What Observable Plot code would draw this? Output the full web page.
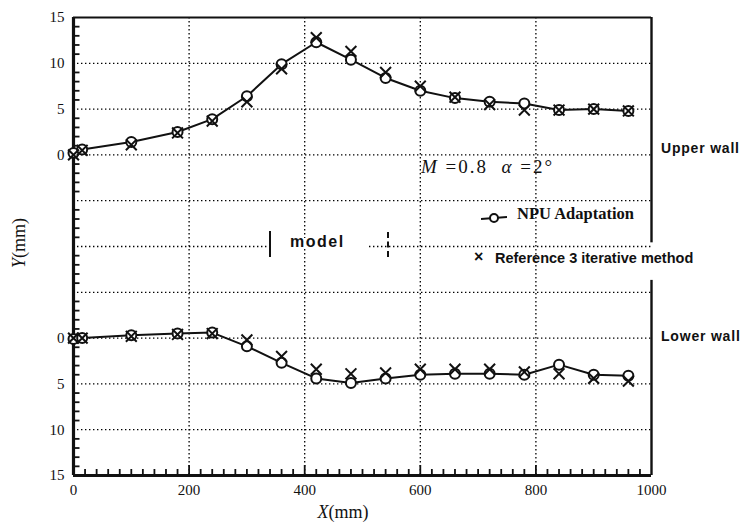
<!DOCTYPE html>
<html><head><meta charset="utf-8">
<script src="https://cdn.jsdelivr.net/npm/d3@7"></script>
<script src="https://cdn.jsdelivr.net/npm/@observablehq/plot@0.6"></script>
<style>
body{margin:0;background:#fff;}
#wrap{position:relative;width:744px;height:527px;overflow:hidden;background:#fff;}
.ann{position:absolute;white-space:nowrap;color:#111;line-height:1;}
</style></head><body><div id="wrap"></div>
<script>
// Station positions along the wall (mm)
const xPositions = [0, 15, 100, 180, 240, 300, 360, 420, 480, 540, 600, 660, 720, 780, 840, 900, 960];
// Upper wall Y (mm, upward)
const upperNPU = [0.2, 0.6, 1.4, 2.5, 3.9, 6.4, 9.9, 12.3, 10.4, 8.4, 7.0, 6.2, 5.8, 5.6, 4.9, 5.0, 4.8];
const upperRef = [0.0, 0.5, 1.1, 2.4, 3.7, 5.8, 9.4, 12.8, 11.3, 9.0, 7.5, 6.3, 5.5, 4.9, 4.9, 5.0, 4.8];
// Lower wall Y (mm, downward)
const lowerNPU = [0.1, 0.0, -0.3, -0.5, -0.6, 0.9, 2.7, 4.4, 4.9, 4.4, 4.0, 3.9, 3.9, 4.0, 2.9, 4.0, 4.1];
const lowerRef = [0.0, 0.0, -0.2, -0.4, -0.5, 0.2, 2.0, 3.4, 3.9, 3.8, 3.4, 3.4, 3.4, 3.7, 3.9, 4.4, 4.7];
// Axis ticks
const yTickValues = [15, 10, 5, 0, -20, -25, -30, -35];
const yTickLabels = ["15", "10", "5", "0", "0", "5", "10", "15"];
const xTickValues = [0, 200, 400, 600, 800, 1000];
const yGrid = [10, 5, 0, -5, -10, -15, -20, -25, -30];
const xGrid = [200, 400, 600, 800];
const lowerOffset = -20; // lower-wall zero sits 20 mm below the upper-wall zero

const W = 744, H = 527;
const mL = 73, mR = 93, mT = 17, mB = 52;
const pxPerX = (W - mL - mR) / 1000;
const pxPerY = (H - mT - mB) / 50;

const upperNPUData = xPositions.map((x, i) => ({x, y: upperNPU[i]}));
const upperRefData = xPositions.map((x, i) => ({x, y: upperRef[i]}));
const lowerNPUData = xPositions.map((x, i) => ({x, y: lowerOffset - lowerNPU[i]}));
const lowerRefData = xPositions.map((x, i) => ({x, y: lowerOffset - lowerRef[i]}));

const minorY = d3.range(-35, 16).filter(v => v % 5 !== 0);
const minorX = d3.range(20, 1000, 20).filter(v => v % 200 !== 0);
const majorX = [200, 400, 600, 800];
const labelMap = new Map(yTickValues.map((v, i) => [v, yTickLabels[i]]));

const dot = "1.4,2.6";
const chart = Plot.plot({
  width: W, height: H,
  marginLeft: mL, marginRight: mR, marginTop: mT, marginBottom: mB,
  style: {fontFamily: "'Liberation Serif', 'DejaVu Serif', serif", fontSize: "15px", color: "#111", background: "#fff"},
  x: {domain: [0, 1000]},
  y: {domain: [-35, 15]},
  marks: [
    Plot.ruleY(yGrid, {stroke: "#000", strokeWidth: 1.3, strokeDasharray: dot}),
    Plot.ruleX(xGrid, {stroke: "#000", strokeWidth: 1.3, strokeDasharray: dot}),
    // frame
    Plot.ruleY([15], {stroke: "#111", strokeWidth: 2.2}),
    Plot.ruleY([-35], {stroke: "#111", strokeWidth: 3.2}),
    Plot.ruleX([0], {stroke: "#111", strokeWidth: 3.2}),
    Plot.ruleX([{x: 1000, y1: 15, y2: -9.6}, {x: 1000, y1: -13.7, y2: -35}], {x: "x", y1: "y1", y2: "y2", stroke: "#111", strokeWidth: 2.4}),
    // minor ticks
    Plot.ruleY(minorY, {x1: 0, x2: 6.5 / pxPerX, stroke: "#111", strokeWidth: 1.8}),
    Plot.ruleX(minorX, {y1: -35, y2: -35 + 6 / pxPerY, stroke: "#111", strokeWidth: 1.8}),
    Plot.ruleX(majorX, {y1: -35, y2: -35 + 10 / pxPerY, stroke: "#111", strokeWidth: 1.8}),
    // axes
    Plot.axisY({ticks: yTickValues, tickFormat: d => labelMap.get(d), tickSize: 0, tickPadding: 9, label: null, fontSize: 15}),
    Plot.axisX({ticks: xTickValues, tickFormat: d => String(d), tickSize: 0, tickPadding: 9, label: null, fontSize: 15}),
    // data
    Plot.line(upperNPUData, {x: "x", y: "y", stroke: "#111", strokeWidth: 2}),
    Plot.line(lowerNPUData, {x: "x", y: "y", stroke: "#111", strokeWidth: 2}),
    Plot.dot(upperNPUData, {x: "x", y: "y", r: 5, stroke: "#111", strokeWidth: 2, fill: "#fff"}),
    Plot.dot(lowerNPUData, {x: "x", y: "y", r: 5, stroke: "#111", strokeWidth: 2, fill: "#fff"}),
    Plot.dot(upperRefData, {x: "x", y: "y", r: 5, symbol: "times", stroke: "#111", strokeWidth: 2}),
    Plot.dot(lowerRefData, {x: "x", y: "y", r: 5, symbol: "times", stroke: "#111", strokeWidth: 2})
  ]
});
const wrap = document.getElementById("wrap");
wrap.appendChild(chart);

function ann(html, css) {
  const d = document.createElement("div");
  d.className = "ann";
  d.innerHTML = html;
  Object.assign(d.style, css);
  wrap.appendChild(d);
  return d;
}
const sans = "'Liberation Sans', Arial, sans-serif";
const serif = "'Liberation Serif', 'DejaVu Serif', serif";
ann("Upper wall", {left: "661px", top: "141px", fontFamily: sans, fontSize: "14px", fontWeight: "600", letterSpacing: "0.8px"});
ann("Lower wall", {left: "661px", top: "329px", fontFamily: sans, fontSize: "14px", fontWeight: "600", letterSpacing: "0.8px"});
ann("<i>M</i> =0.8&nbsp;&nbsp;<i>α</i> =2°", {left: "421px", top: "157px", fontFamily: serif, fontSize: "19px", letterSpacing: "2px"});
ann('<svg width="26" height="12" style="vertical-align:middle"><line x1="0" y1="7" x2="26" y2="5" stroke="#111" stroke-width="2"/><circle cx="13" cy="6" r="4" fill="#fff" stroke="#111" stroke-width="2"/></svg>', {left: "481px", top: "209px"});
ann("NPU Adaptation", {left: "517px", top: "206px", fontFamily: serif, fontSize: "16.5px", fontWeight: "bold"});
ann("×", {left: "474px", top: "249px", fontFamily: sans, fontSize: "16px", fontWeight: "bold"});
ann("Reference 3 iterative method", {left: "495px", top: "251px", fontFamily: sans, fontSize: "14.5px", fontWeight: "bold"});
ann("", {left: "267px", top: "238px", width: "100px", height: "10px", background: "#fff"});
ann("", {left: "269px", top: "231px", width: "2px", height: "26px", background: "#111"});
ann("model", {left: "290px", top: "234px", fontFamily: sans, fontSize: "16px", fontWeight: "bold", letterSpacing: "1.5px"});
ann("", {left: "387px", top: "232px", width: "0px", height: "25px", borderLeft: "2px dashed #111"});
ann("<i>Y</i>(mm)", {left: "-6px", top: "234px", width: "50px", textAlign: "center", fontFamily: serif, fontSize: "18px", transform: "rotate(-90deg)"});
ann("<i>X</i>(mm)", {left: "305px", top: "503px", width: "76px", textAlign: "center", fontFamily: serif, fontSize: "18px"});
</script></body></html>
